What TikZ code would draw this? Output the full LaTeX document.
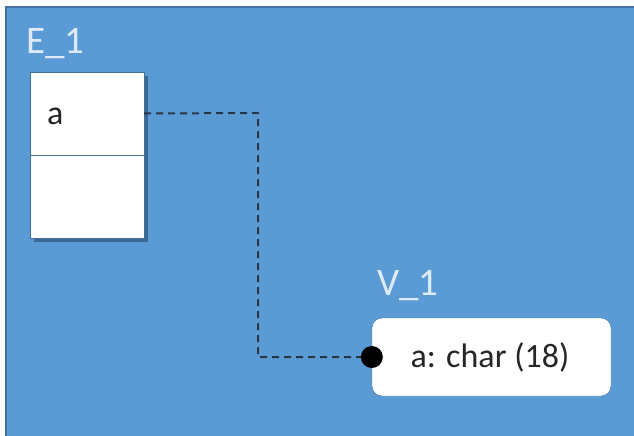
\documentclass[tikz,border=0pt]{standalone}
\usepackage{fontspec}
\setmainfont{Carlito}
\usetikzlibrary{shadows}
\definecolor{fondbleu}{HTML}{5B9BD5}
\definecolor{bordbleu}{HTML}{41719C}
\definecolor{titreclair}{HTML}{DEEBF7}
\definecolor{trait}{HTML}{2B3645}
\definecolor{ombre}{HTML}{2E5478}
\tikzset{
  titre/.style={anchor=base west,inner sep=0,text=titreclair,font=\fontsize{39}{39}\selectfont},
  cellule/.style={draw=bordbleu,fill=white,minimum width=114pt,minimum height=83pt,inner sep=0},
  texte/.style={inner sep=0,text=black!85,font=\fontsize{34}{34}\selectfont}
}
\begin{document}
\begin{tikzpicture}[x=1pt,y=-1pt]
\useasboundingbox (0,0) rectangle (634,436);
\fill[fondbleu,draw=bordbleu,line width=1.5pt] (6,7) rectangle (645,447);
% entite E_1
\node[titre] (titreE) at (26,54) {E\_1};
\node[minimum width=114pt,minimum height=166pt,inner sep=0,fill=white,
  drop shadow={shadow xshift=4pt,shadow yshift=-4pt,fill=ombre,opacity=0.7}] (tableE) at (87,155) {};
\node[cellule] (champA) at (87,113.5) {};
\node[cellule] (champB) at (87,196.5) {};
\node[texte,anchor=base west] (nomA) at (47,124) {a};
% valeur V_1
\node[titre] (titreV) at (377,295) {V\_1};
\node[draw=bordbleu,fill=white,rounded corners=10pt,minimum width=239pt,minimum height=78pt,inner sep=0] (boiteV) at (491.5,357) {};
\node[texte] (valA) at (490,357) {a: char (18)};
% lien
\coordinate (coude) at (258,113);
\draw[trait,line width=2pt,dash pattern=on 7pt off 5pt] (champA.east) -- (coude) |- (boiteV.west);
\fill[black] (boiteV.west) circle (11pt);
\end{tikzpicture}
\end{document}
